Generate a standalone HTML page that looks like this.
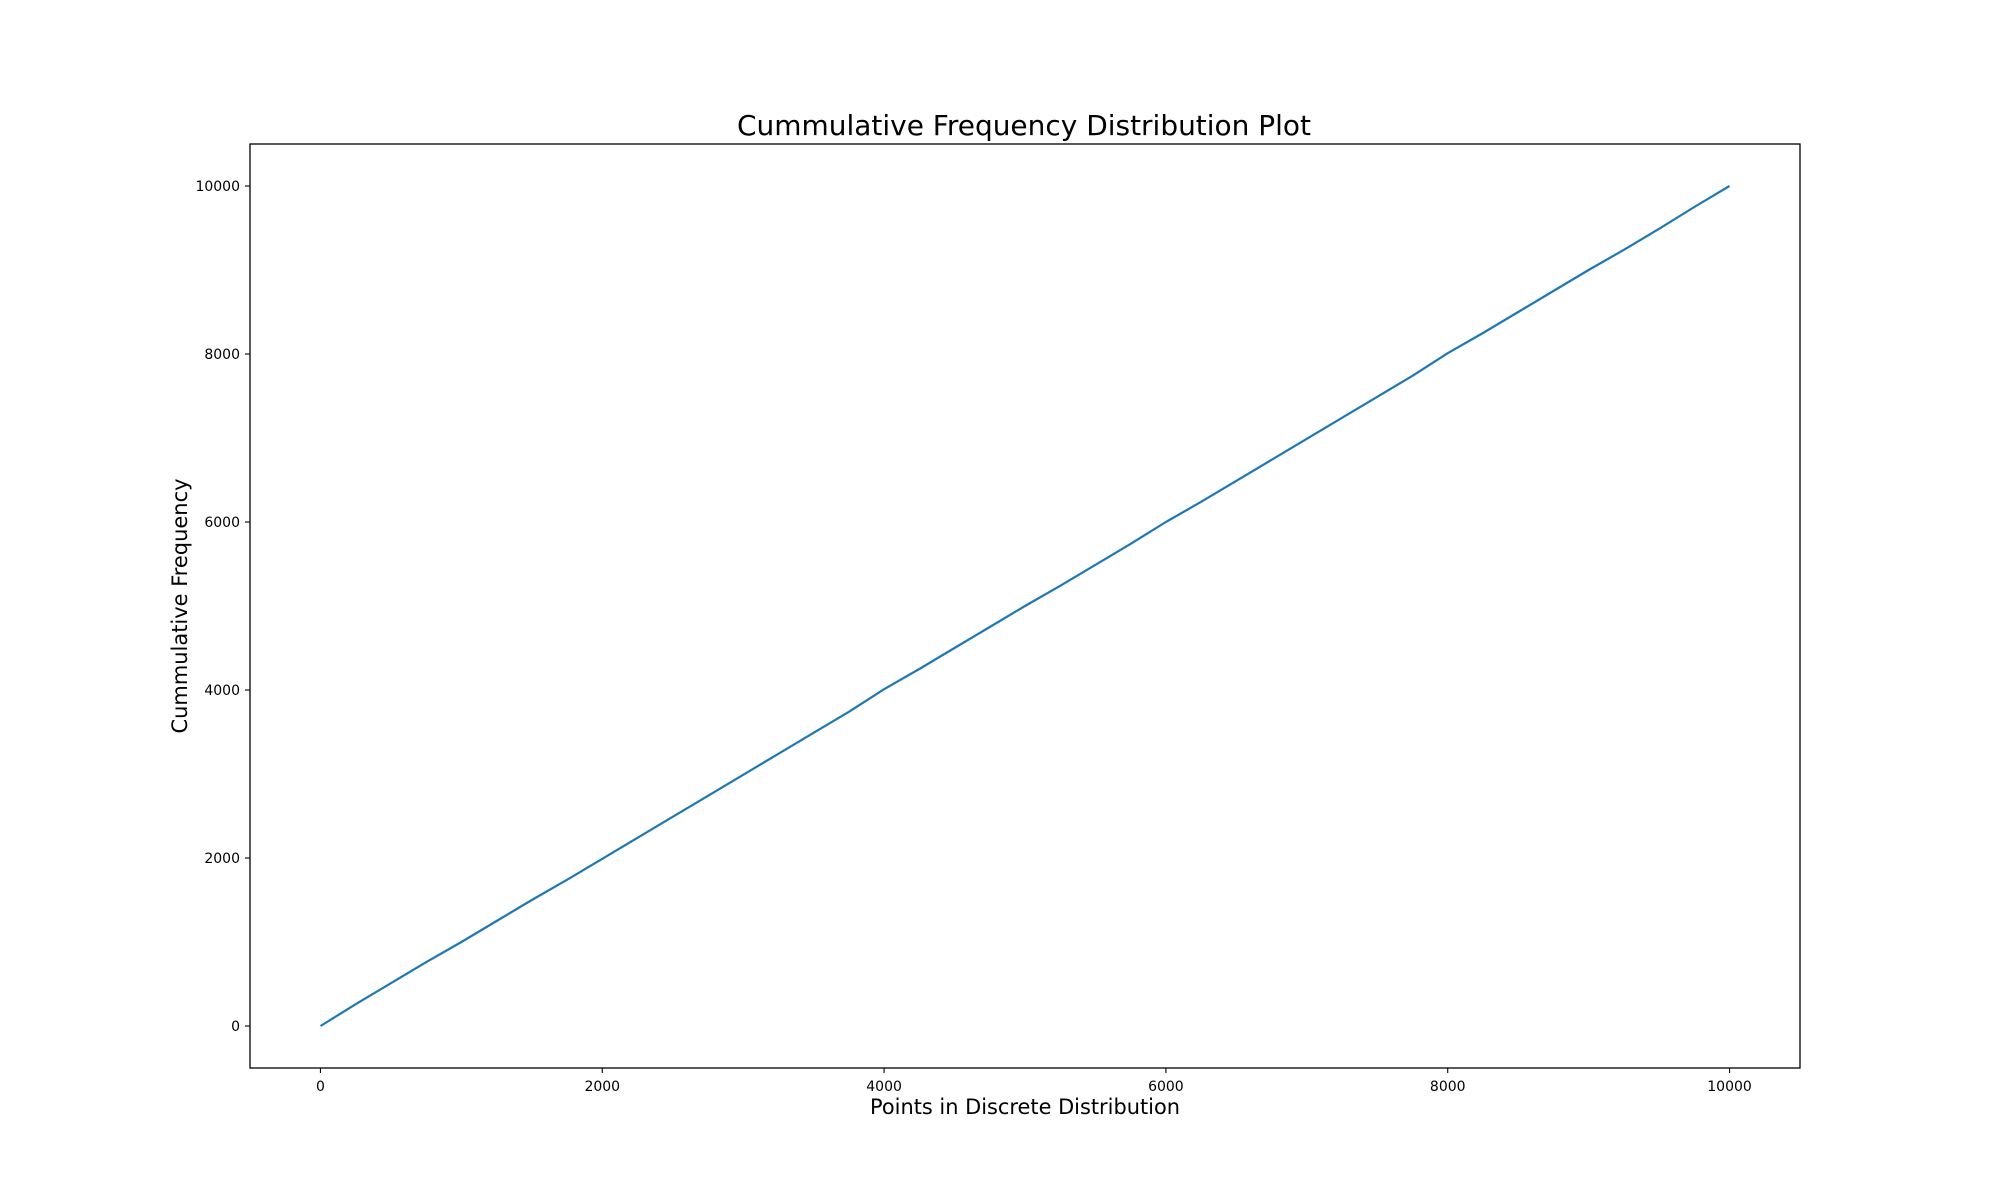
<!DOCTYPE html>
<html><head><meta charset="utf-8"><style>
html,body{margin:0;padding:0;background:#fff}
svg{display:block}
text{font-family:"DejaVu Sans","Liberation Sans",sans-serif;fill:#000}
</style></head><body>
<svg id="chart" width="2000" height="1200" viewBox="0 0 2000 1200" xmlns="http://www.w3.org/2000/svg">
<rect width="2000" height="1200" fill="#fff"/>
<text x="1024" y="135" font-size="28" text-anchor="middle" textLength="574" lengthAdjust="spacingAndGlyphs">Cummulative Frequency Distribution Plot</text>
<g id="ticks"></g>
<path id="series" fill="none" stroke="#1f77b4" stroke-width="2.2" stroke-linejoin="round"/>
<rect x="250" y="144" width="1550" height="924" fill="none" stroke="#000" stroke-width="1.3"/>
<text x="1025" y="1114" font-size="21" text-anchor="middle" textLength="310" lengthAdjust="spacingAndGlyphs">Points in Discrete Distribution</text>
<text x="0" y="0" font-size="21" text-anchor="middle" textLength="255" lengthAdjust="spacingAndGlyphs" transform="translate(187,606) rotate(-90)">Cummulative Frequency</text>
</svg>
<script>
const xTicks = [0, 2000, 4000, 6000, 8000, 10000];
const yTicks = [0, 2000, 4000, 6000, 8000, 10000];
const xPoints = [0,250,500,750,1000,1250,1500,1750,2000,2250,2500,2750,3000,3250,3500,3750,4000,4250,4500,4750,5000,5250,5500,5750,6000,6250,6500,6750,7000,7250,7500,7750,8000,8250,8500,8750,9000,9250,9500,9750,10000];
const yValues = [0,260,510,760,1000,1250,1500,1740,1990,2240,2490,2740,2990,3240,3490,3740,4010,4250,4500,4750,5000,5240,5490,5740,6000,6240,6490,6740,6990,7240,7490,7740,8010,8250,8500,8750,9000,9240,9490,9750,10000];

const L=250,R=1800,T=144,B=1068,XMIN=-500,XMAX=10500,YMIN=-500,YMAX=10500;
const sx=v=>L+(v-XMIN)/(XMAX-XMIN)*(R-L);
const sy=v=>B-(v-YMIN)/(YMAX-YMIN)*(B-T);
const NS='http://www.w3.org/2000/svg';
const g=document.getElementById('ticks');
function mk(tag,attrs){const e=document.createElementNS(NS,tag);for(const k in attrs)e.setAttribute(k,attrs[k]);return e;}
xTicks.forEach(v=>{
  const l=mk('line',{x1:sx(v),x2:sx(v),y1:B,y2:B+5,stroke:'#000','stroke-width':1.1});
  
  
  g.appendChild(l);
  const t=mk('text',{x:sx(v),y:B+23,'font-size':14,'text-anchor':'middle'});
  
  
  t.textContent=v;g.appendChild(t);
});
yTicks.forEach(v=>{
  const l=mk('line',{x1:L-5,x2:L,y1:sy(v),y2:sy(v),stroke:'#000','stroke-width':1.1});
  
  
  g.appendChild(l);
  const t=mk('text',{x:L-10,y:sy(v)+5,'font-size':14,'text-anchor':'end'});
  
  
  t.textContent=v;g.appendChild(t);
});
document.getElementById('series').setAttribute('d',xPoints.map((x,i)=>(i?'L':'M')+sx(x).toFixed(1)+','+sy(yValues[i]).toFixed(1)).join(''));
</script>
</body></html>
